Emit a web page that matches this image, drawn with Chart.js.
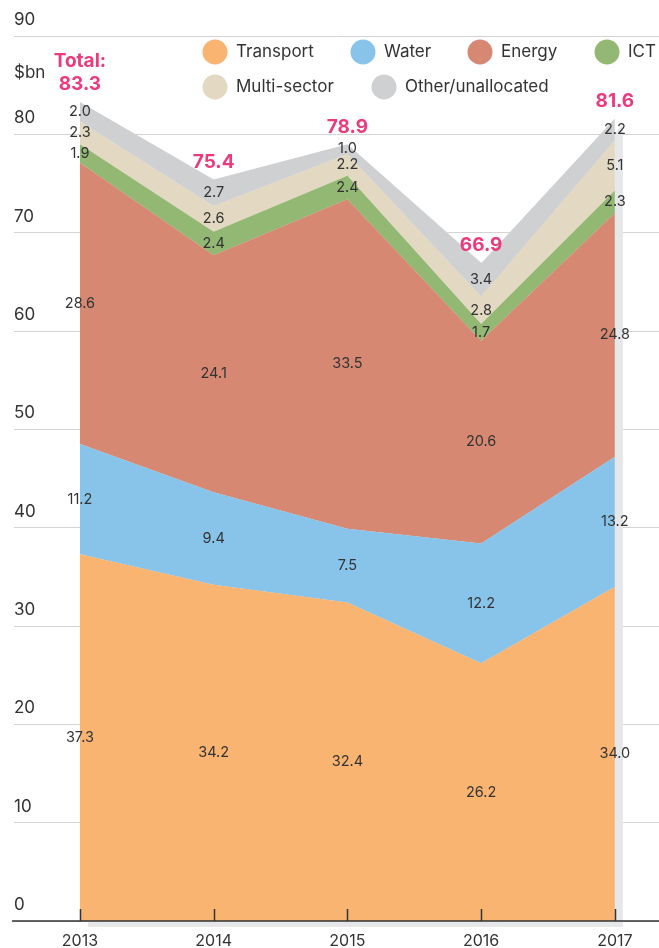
<!DOCTYPE html>
<html>
<head>
<meta charset="utf-8">
<script src="https://cdn.jsdelivr.net/npm/chart.js@4.4.1/dist/chart.umd.min.js"></script>
<style>
  html, body { margin: 0; padding: 0; background: #fff; }
  #wrap { position: relative; width: 659px; height: 948px; }
</style>
</head>
<body>
<div id="wrap"><canvas id="infraChart" width="659" height="948"></canvas></div>
<script>
// Infrastructure commitments by sector, $bn
const years = [2013, 2014, 2015, 2016, 2017];
const transport = [37.3, 34.2, 32.4, 26.2, 34.0];
const water = [11.2, 9.4, 7.5, 12.2, 13.2];
const energy = [28.6, 24.1, 33.5, 20.6, 24.8];
const ict = [1.9, 2.4, 2.4, 1.7, 2.3];
const multiSector = [2.3, 2.6, 2.2, 2.8, 5.1];
const other = [2.0, 2.7, 1.0, 3.4, 2.2];
const totals = [83.3, 75.4, 78.9, 66.9, 81.6];
const yTicks = [0, 10, 20, 30, 40, 50, 60, 70, 80, 90];

const FONT = 'Inter, "Noto Sans", sans-serif';
const PINK = '#ec3a7f';
const TEXT = '#333';

const series = [
  { label: 'Transport', data: transport, color: '#f9b472' },
  { label: 'Water', data: water, color: '#88c4e9' },
  { label: 'Energy', data: energy, color: '#d68872' },
  { label: 'ICT', data: ict, color: '#93b873' },
  { label: 'Multi-sector', data: multiSector, color: '#e3d9c2' },
  { label: 'Other/unallocated', data: other, color: '#cfd0d2' }
];

// legend layout: [series index, x of dot, y of row]
const legendItems = [
  [0, 215, 52], [1, 363, 52], [2, 480, 52], [3, 607, 52],
  [4, 215, 87], [5, 384, 87]
];

const decorations = {
  id: 'decorations',
  beforeDatasetsDraw(chart) {
    // soft drop shadow behind the whole stack
    const { ctx, scales: { x, y } } = chart;
    ctx.save();
    ctx.fillStyle = '#e6e7e9';
    ctx.beginPath();
    years.forEach((yr, i) => {
      const px = x.getPixelForValue(yr) + 8;
      const py = y.getPixelForValue(totals[i]) + 6;
      if (i === 0) ctx.moveTo(px, py); else ctx.lineTo(px, py);
    });
    ctx.lineTo(x.getPixelForValue(years[years.length - 1]) + 8, y.getPixelForValue(0) + 6);
    ctx.lineTo(x.getPixelForValue(years[0]) + 8, y.getPixelForValue(0) + 6);
    ctx.closePath();
    ctx.fill();
    ctx.restore();
  },
  afterDatasetsDraw(chart) {
    const { ctx, chartArea, scales: { x, y } } = chart;
    ctx.save();
    // axis line and upward ticks
    const y0 = y.getPixelForValue(0);
    ctx.strokeStyle = '#333';
    ctx.lineWidth = 1.5;
    ctx.beginPath();
    ctx.moveTo(chartArea.left - 2, y0);
    ctx.lineTo(chartArea.right, y0);
    years.forEach(yr => {
      const px = Math.round(x.getPixelForValue(yr)) + 0.5;
      ctx.moveTo(px, y0);
      ctx.lineTo(px, y0 - 12);
    });
    ctx.stroke();

    // segment values at band centres
    ctx.fillStyle = TEXT;
    ctx.font = '14.5px ' + FONT;
    ctx.textAlign = 'center';
    ctx.textBaseline = 'middle';
    years.forEach((yr, i) => {
      let base = 0;
      series.forEach(s => {
        const v = s.data[i];
        ctx.fillText(v.toFixed(1), x.getPixelForValue(yr), y.getPixelForValue(base + v / 2));
        base += v;
      });
    });

    // totals
    ctx.fillStyle = PINK;
    ctx.font = 'bold 19px ' + FONT;
    ctx.textBaseline = 'alphabetic';
    years.forEach((yr, i) => {
      const px = x.getPixelForValue(yr);
      const py = y.getPixelForValue(totals[i]) - 12;
      ctx.fillText(totals[i].toFixed(1), px, py);
      if (i === 0) ctx.fillText('Total:', px, py - 23);
    });

    // unit label
    ctx.fillStyle = TEXT;
    ctx.font = '17px ' + FONT;
    ctx.textAlign = 'left';
    ctx.textBaseline = 'middle';
    ctx.fillText('$bn', chartArea.left, 73);

    // legend
    legendItems.forEach(([idx, cx, cy]) => {
      ctx.fillStyle = series[idx].color;
      ctx.beginPath();
      ctx.arc(cx, cy, 12.5, 0, Math.PI * 2);
      ctx.fill();
      ctx.fillStyle = TEXT;
      ctx.fillText(series[idx].label, cx + 21, cy);
    });
    ctx.restore();
  }
};

new Chart(document.getElementById('infraChart'), {
  type: 'line',
  data: {
    datasets: series.map((s, i) => ({
      label: s.label,
      data: years.map((yr, j) => ({ x: yr, y: s.data[j] })),
      backgroundColor: s.color,
      borderWidth: 0,
      pointRadius: 0,
      tension: 0,
      fill: i === 0 ? 'origin' : '-1'
    }))
  },
  options: {
    responsive: false,
    animation: false,
    layout: { padding: { top: 36, left: 14, right: 0, bottom: 0 } },
    plugins: { legend: { display: false }, tooltip: { enabled: false } },
    scales: {
      x: {
        type: 'linear',
        min: 2012.507,
        max: 2017.33,
        afterBuildTicks(scale) { scale.ticks = years.map(v => ({ value: v })); },
        afterFit(scale) { scale.height = 27; },
        grid: { display: false },
        border: { display: false },
        ticks: {
          color: TEXT,
          font: { family: FONT, size: 16 },
          padding: 3,
          maxRotation: 0,
          callback: v => String(v)
        }
      },
      y: {
        stacked: true,
        min: 0,
        max: 90,
        afterBuildTicks(scale) { scale.ticks = yTicks.map(v => ({ value: v })); },
        grid: { color: '#d4d4d4', lineWidth: 1, drawTicks: false },
        border: { display: false },
        ticks: {
          mirror: true,
          padding: 0,
          labelOffset: -16,
          color: TEXT,
          font: { family: FONT, size: 17 }
        }
      }
    }
  },
  plugins: [decorations]
});
</script>
</body>
</html>
